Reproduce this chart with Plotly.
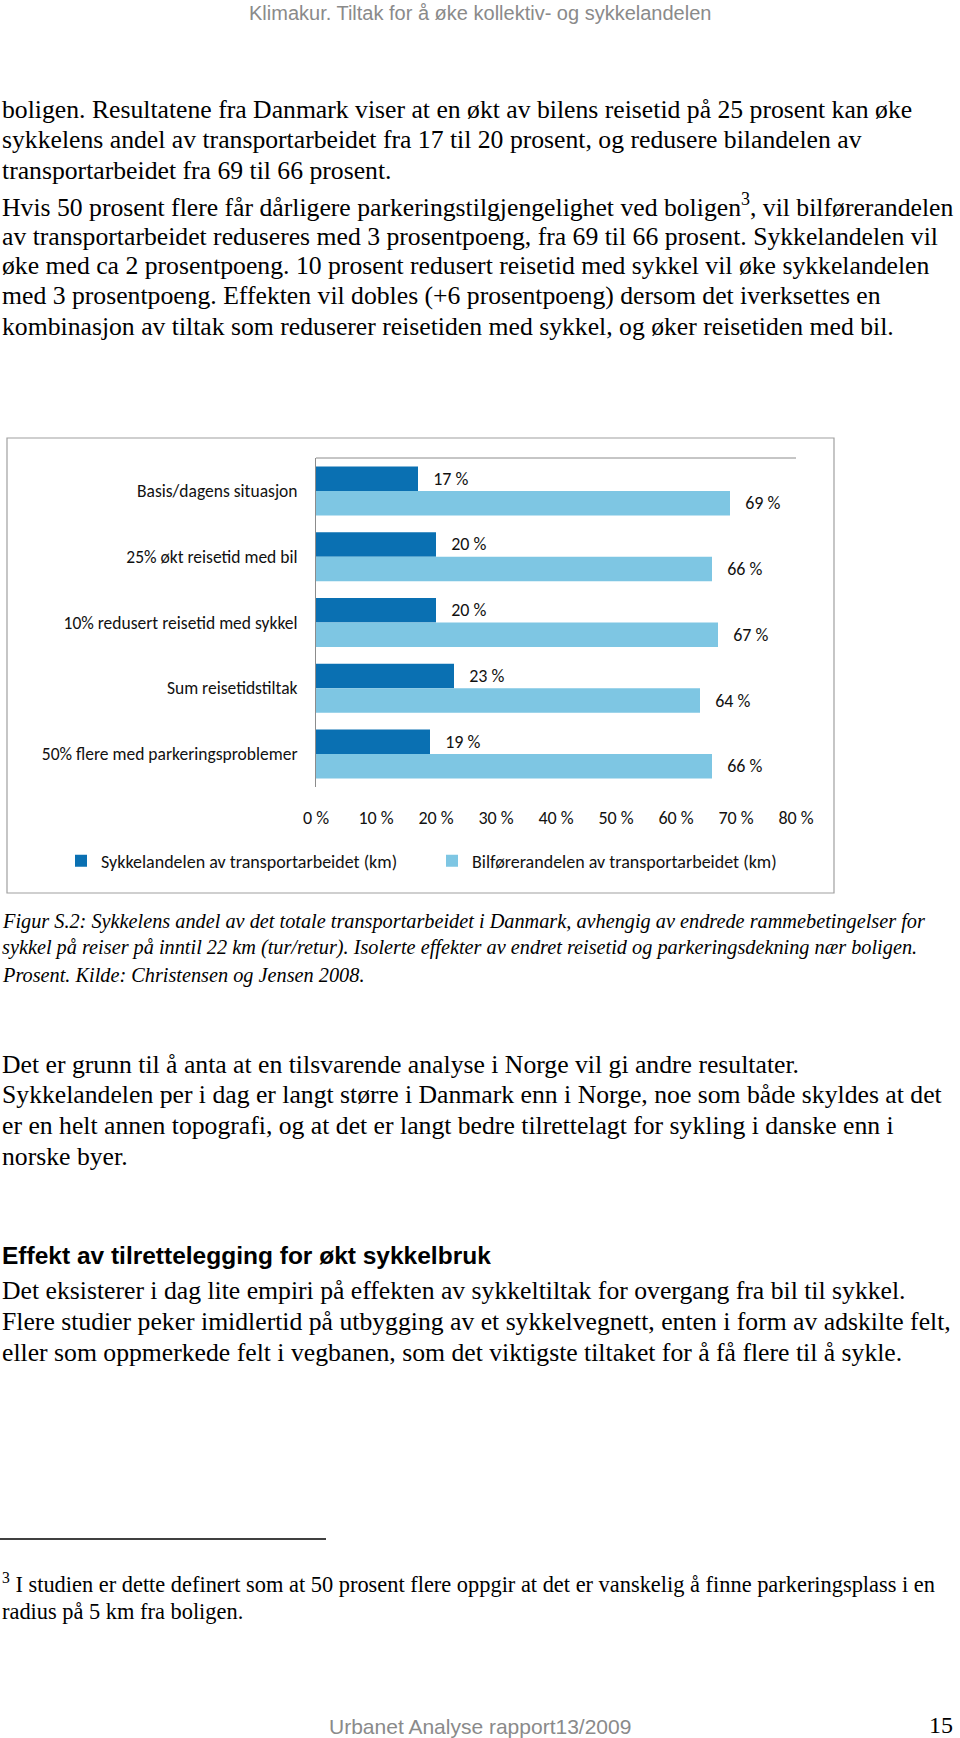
import plotly.graph_objects as go

# ---------------- data ----------------
categories = [
    "Basis/dagens situasjon",
    "25% økt reisetid med bil",
    "10% redusert reisetid med sykkel",
    "Sum reisetidstiltak",
    "50% flere med parkeringsproblemer",
]
sykkel = [17, 20, 20, 23, 19]
bilforer = [69, 66, 67, 64, 66]
series_names = [
    "Sykkelandelen av transportarbeidet (km)",
    "Bilførerandelen av transportarbeidet (km)",
]
tick_values = [0, 10, 20, 30, 40, 50, 60, 70, 80]
tick_labels = ["0\u00a0%", "10\u00a0%", "20\u00a0%", "30\u00a0%", "40\u00a0%",
               "50\u00a0%", "60\u00a0%", "70\u00a0%", "80\u00a0%"]

# ---------------- page text ----------------
header = "Klimakur. Tiltak for å øke kollektiv- og sykkelandelen"
para1 = [
    "boligen. Resultatene fra Danmark viser at en økt av bilens reisetid på 25 prosent kan øke",
    "sykkelens andel av transportarbeidet fra 17 til 20 prosent, og redusere bilandelen av",
    "transportarbeidet fra 69 til 66 prosent.",
]
para2 = [
    "Hvis 50 prosent flere får dårligere parkeringstilgjengelighet ved boligen<sup>3</sup>, vil bilførerandelen",
    "av transportarbeidet reduseres med 3 prosentpoeng, fra 69 til 66 prosent. Sykkelandelen vil",
    "øke med ca 2 prosentpoeng. 10 prosent redusert reisetid med sykkel vil øke sykkelandelen",
    "med 3 prosentpoeng. Effekten vil dobles (+6 prosentpoeng) dersom det iverksettes en",
    "kombinasjon av tiltak som reduserer reisetiden med sykkel, og øker reisetiden med bil.",
]
caption = [
    "Figur S.2: Sykkelens andel av det totale transportarbeidet i Danmark, avhengig av endrede rammebetingelser for",
    "sykkel på reiser på inntil 22 km (tur/retur). Isolerte effekter av endret reisetid og parkeringsdekning nær boligen.",
    "Prosent. Kilde: Christensen og Jensen 2008.",
]
para3 = [
    "Det er grunn til å anta at en tilsvarende analyse i Norge vil gi andre resultater.",
    "Sykkelandelen per i dag er langt større i Danmark enn i Norge, noe som både skyldes at det",
    "er en helt annen topografi, og at det er langt bedre tilrettelagt for sykling i danske enn i",
    "norske byer.",
]
heading = "Effekt av tilrettelegging for økt sykkelbruk"
para4 = [
    "Det eksisterer i dag lite empiri på effekten av sykkeltiltak for overgang fra bil til sykkel.",
    "Flere studier peker imidlertid på utbygging av et sykkelvegnett, enten i form av adskilte felt,",
    "eller som oppmerkede felt i vegbanen, som det viktigste tiltaket for å få flere til å sykle.",
]
footnote = [
    "<sup>3</sup> I studien er dette definert som at 50 prosent flere oppgir at det er vanskelig å finne parkeringsplass i en",
    "radius på 5 km fra boligen.",
]
footer = "Urbanet Analyse rapport13/2009"
page_no = "15"

# ---------------- styling ----------------
W, H = 960, 1738
DARK = "#0A70B2"
LIGHT = "#7EC6E3"
AXIS_GREY = "#8C8C8C"
CHART_FONT = "Carlito, Lato, sans-serif"
SERIF = "Liberation Serif, serif"
NARROW = "Liberation Sans Narrow, Liberation Sans, sans-serif"
BODY = 25.7


def px(x):
    return x / W


def py(y):
    return 1 - y / H


def pct_labels(values):
    return ["\u00a0\u00a0\u00a0" + str(v) + "\u00a0%" for v in values]


fig = go.Figure()
fig.add_trace(go.Bar(
    y=categories, x=sykkel, orientation="h", name=series_names[0],
    marker=dict(color=DARK, line=dict(width=0)),
    text=pct_labels(sykkel), textposition="outside",
    textfont=dict(family=CHART_FONT, size=18, color="#111"),
    cliponaxis=False, hoverinfo="skip",
))
fig.add_trace(go.Bar(
    y=categories, x=bilforer, orientation="h", name=series_names[1],
    marker=dict(color=LIGHT, line=dict(width=0)),
    text=pct_labels(bilforer), textposition="outside",
    textfont=dict(family=CHART_FONT, size=18, color="#111"),
    cliponaxis=False, hoverinfo="skip",
))

fig.update_layout(
    width=W, height=H,
    margin=dict(l=0, r=0, t=0, b=0, pad=0, autoexpand=False),
    paper_bgcolor="white", plot_bgcolor="white",
    barmode="group", bargap=0.255, bargroupgap=0,
    font=dict(family=CHART_FONT, size=18, color="#111"),
    showlegend=True,
    legend=dict(
        orientation="h", x=px(61), y=py(861), xanchor="left", yanchor="middle",
        font=dict(family=CHART_FONT, size=18, color="#111"),
        itemwidth=30, traceorder="normal", bgcolor="rgba(0,0,0,0)",
        entrywidth=326, entrywidthmode="pixels",
    ),
    xaxis=dict(
        domain=[px(316), px(796)], range=[0, 80], automargin=False,
        tickmode="array", tickvals=tick_values, ticktext=tick_labels,
        showgrid=False, zeroline=False, showline=False, ticks="",
        ticklabelstandoff=18,
        tickfont=dict(family=CHART_FONT, size=18, color="#111"),
        fixedrange=True,
    ),
    yaxis=dict(
        domain=[py(787), py(458)], autorange="reversed", automargin=False,
        showgrid=False, zeroline=False, showline=True,
        linecolor=AXIS_GREY, linewidth=1, ticks="",
        ticklabelstandoff=14,
        tickfont=dict(family=CHART_FONT, size=17.5, color="#111"),
        fixedrange=True,
    ),
)

shapes = [
    # chart frame
    dict(type="rect", xref="paper", yref="paper",
         x0=px(7), x1=px(834), y0=py(893), y1=py(438),
         line=dict(color="#A0A0A0", width=1.2), layer="below"),
    # top axis line of the plot area
    dict(type="line", xref="x domain", yref="y domain",
         x0=0, x1=1, y0=1, y1=1, line=dict(color=AXIS_GREY, width=1)),
    # footnote rule
    dict(type="line", xref="paper", yref="paper",
         x0=0, x1=px(326), y0=py(1539), y1=py(1539),
         line=dict(color="black", width=1.5)),
]
fig.update_layout(shapes=shapes)

annotations = []


def add_text(text, x, y, size, family=SERIF, color="black", anchor="left"):
    annotations.append(dict(
        text=text, x=px(x), y=py(y), xref="paper", yref="paper",
        xanchor=anchor, yanchor="middle", showarrow=False,
        font=dict(family=family, size=size, color=color),
    ))


add_text(header, 480, 13, 20, NARROW, "#8A8A8A", "center")

for i, line in enumerate(para1):
    add_text(line, 0, 109 + i * 30.5, BODY)
for i, line in enumerate(para2):
    add_text(line, 0, 206 + i * 30, BODY)
for i, line in enumerate(caption):
    add_text("<i>" + line + "</i>", 0, 921 + i * 27, 20.3)
for i, line in enumerate(para3):
    add_text(line, 0, 1064 + i * 30.7, BODY)
add_text("<b>" + heading + "</b>", 0, 1255, 24.5, "Liberation Sans, Arial, sans-serif")
for i, line in enumerate(para4):
    add_text(line, 0, 1290 + i * 31, BODY)
for i, line in enumerate(footnote):
    add_text(line, 0, 1583 + i * 28, 22.4)

add_text(footer, 480, 1726, 21, NARROW, "#8A8A8A", "center")
add_text(page_no, 955, 1725, 24, SERIF, "black", "right")

fig.update_layout(annotations=annotations)

fig.write_html(
    "out.html",
    config={"displayModeBar": False, "responsive": False},
    post_script="document.body.style.margin='0';document.body.style.overflow='hidden';",
)
